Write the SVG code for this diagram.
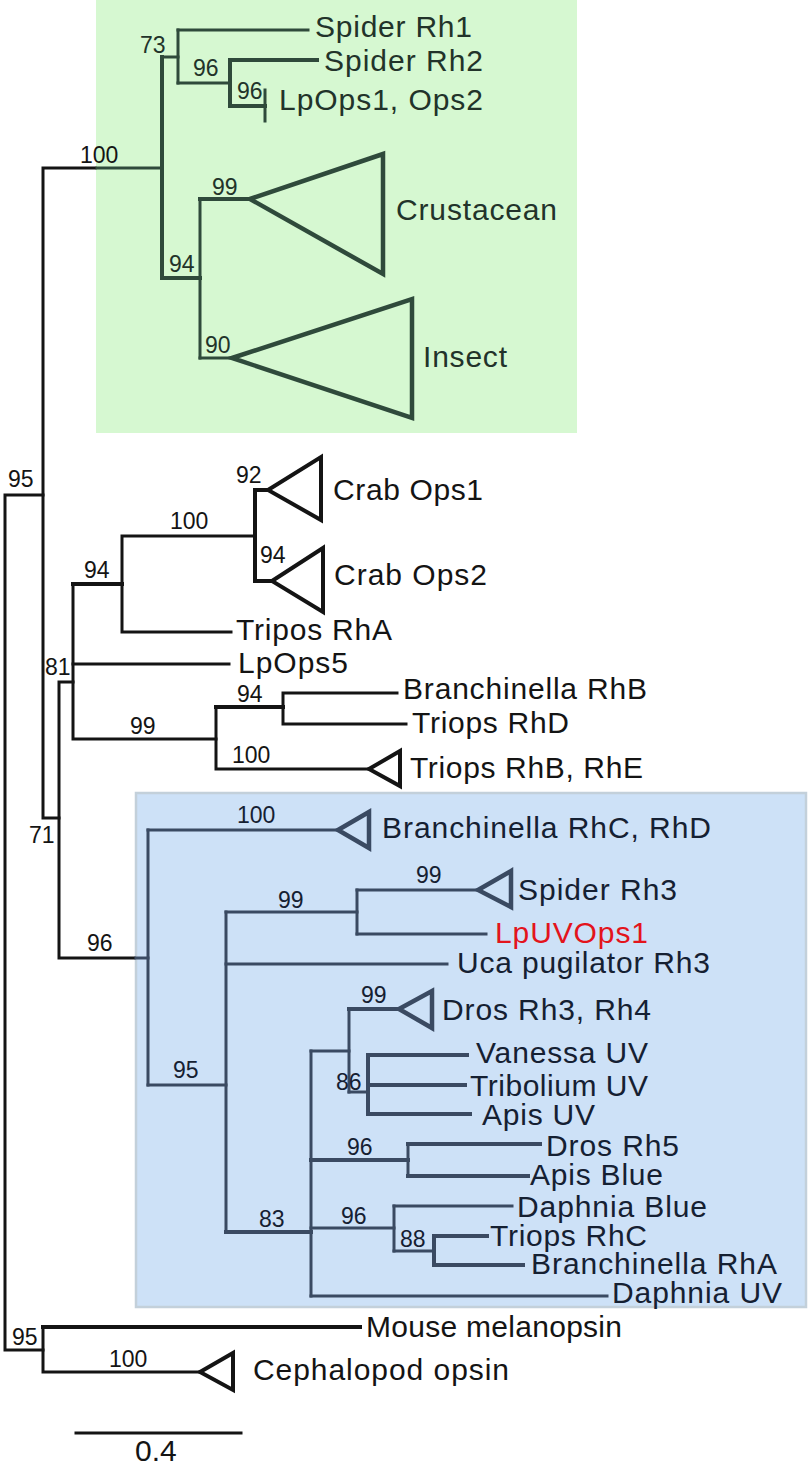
<svg xmlns="http://www.w3.org/2000/svg" width="812" height="1476" viewBox="0 0 812 1476">
<style>
text{font-family:"Liberation Sans",Arial,sans-serif}
.lab{font-size:30px}
.bs{font-size:23px}
.k{fill:#141414}
.g{fill:#22332a}
.b{fill:#152032}
.red{fill:#e3141c}
.lk{fill:none;stroke:#141414;stroke-width:3;stroke-linecap:square}
.lg{fill:none;stroke:#2f4a3b;stroke-width:3;stroke-linecap:square}
.lb{fill:none;stroke:#3a4a62;stroke-width:3;stroke-linecap:square}
.tk{fill:none;stroke:#141414;stroke-width:4;stroke-linejoin:miter}
.tg{fill:none;stroke:#2f4a3b;stroke-width:4.5;stroke-linejoin:miter}
.tb{fill:none;stroke:#3a4a62;stroke-width:4.5;stroke-linejoin:miter}
.thick{stroke-width:4}
</style>
<rect width="812" height="1476" fill="#ffffff"/>
<g id="panels">
<rect id="green-box" x="96" y="0" width="481" height="433" fill="#d6f8d1"/>
<rect id="blue-box" x="136" y="793" width="670" height="514" fill="#cde1f7" stroke="#c3d0da" stroke-width="2.5"/>
</g>
<g id="connectors">
<path class="lk" d="M43 495 H5 V1350 H43"/>
<path class="lk" d="M95 168 H43 V818 H59"/>
<path class="lk" d="M73 682 H59 V958 H134"/>
<path class="lk" d="M122 584 H73 V739 H216"/>
<path class="lk thick" d="M122 584 H73"/>
<path class="lk" d="M73 664 H229"/>
<path class="lk" d="M255 536 H122 V632 H231"/>
<path class="lk thick" d="M268 490 H255 V581 H272"/>
<path class="lk" d="M283 707 H216 V769 H369"/>
<path class="lk thick" d="M283 707 H216"/>
<path class="lk" d="M397 693 H283 V724 H406"/>
<path class="lk" d="M43 1327 V1372 H200"/>
<path class="lk thick" d="M360 1327 H43"/>
<path class="lg" d="M97 168 H162"/>
<path class="lg thick" d="M162 57 V278"/>
<path class="lg" d="M162 57 H178"/>
<path class="lg" d="M178 30 V83"/>
<path class="lg" d="M178 30 H308"/>
<path class="lg" d="M178 83 H230"/>
<path class="lg thick" d="M230 60 V106"/>
<path class="lg thick" d="M230 60 H317"/>
<path class="lg thick" d="M230 106 H265"/>
<path class="lg" d="M265 90 V121"/>
<path class="lg thick" d="M162 278 H200"/>
<path class="lg" d="M200 199 V358"/>
<path class="lg thick" d="M200 199 H250"/>
<path class="lg" d="M200 358 H232"/>
<path class="lb" d="M136 958 H148"/>
<path class="lb" d="M148 830 V1085"/>
<path class="lb" d="M148 830 H338"/>
<path class="lb" d="M148 1085 H226"/>
<path class="lb" d="M226 912 V1232"/>
<path class="lb" d="M226 912 H357"/>
<path class="lb" d="M357 890 V934"/>
<path class="lb" d="M357 890 H478"/>
<path class="lb" d="M357 934 H486"/>
<path class="lb" d="M226 964 H447"/>
<path class="lb thick" d="M226 1232 H311"/>
<path class="lb" d="M311 1051 V1296"/>
<path class="lb" d="M311 1051 H349"/>
<path class="lb" d="M349 1009 V1092"/>
<path class="lb thick" d="M349 1009 H399"/>
<path class="lb" d="M349 1092 H368"/>
<path class="lb thick" d="M368 1055 V1114"/>
<path class="lb thick" d="M368 1055 H467"/>
<path class="lb thick" d="M368 1085 H465"/>
<path class="lb thick" d="M368 1114 H470"/>
<path class="lb thick" d="M311 1160 H408"/>
<path class="lb" d="M408 1144 V1176"/>
<path class="lb thick" d="M408 1144 H540"/>
<path class="lb thick" d="M408 1176 H528"/>
<path class="lb" d="M311 1228 H394"/>
<path class="lb" d="M394 1206 V1251"/>
<path class="lb" d="M394 1206 H512"/>
<path class="lb" d="M394 1251 H434"/>
<path class="lb thick" d="M434 1236 V1265"/>
<path class="lb thick" d="M434 1236 H487"/>
<path class="lb thick" d="M434 1265 H523"/>
<path class="lb" d="M311 1296 H607"/>
</g>
<g id="internal-nodes">
<g id="n-green-100"><text class="bs k" x="80" y="163">100</text></g>
<g id="n-73"><text class="bs g" x="140" y="53">73</text></g>
<g id="n-96a"><text class="bs g" x="193" y="76">96</text></g>
<g id="n-96b"><text class="bs g" x="237" y="99">96</text></g>
<g id="n-99-crust"><text class="bs g" x="212" y="195">99</text></g>
<g id="n-94-green"><text class="bs g" x="169" y="272">94</text></g>
<g id="n-90-insect"><text class="bs g" x="205" y="353">90</text></g>
<g id="n-95-top"><text class="bs k" x="8" y="487">95</text></g>
<g id="n-92"><text class="bs k" x="236" y="483">92</text></g>
<g id="n-100-crab"><text class="bs k" x="170" y="529">100</text></g>
<g id="n-94-crab2"><text class="bs k" x="260" y="563">94</text></g>
<g id="n-94-tripos"><text class="bs k" x="84" y="578">94</text></g>
<g id="n-81"><text class="bs k" x="45" y="675">81</text></g>
<g id="n-94-branch"><text class="bs k" x="237" y="702">94</text></g>
<g id="n-99-triops"><text class="bs k" x="130" y="734">99</text></g>
<g id="n-100-triops"><text class="bs k" x="232" y="763">100</text></g>
<g id="n-71"><text class="bs k" x="29" y="843">71</text></g>
<g id="n-96-blue"><text class="bs k" x="87" y="951">96</text></g>
<g id="n-100-brc"><text class="bs b" x="237" y="823">100</text></g>
<g id="n-99-sp3"><text class="bs b" x="416" y="883">99</text></g>
<g id="n-99-uv"><text class="bs b" x="278" y="908">99</text></g>
<g id="n-99-dros"><text class="bs b" x="361" y="1003">99</text></g>
<g id="n-95-blue"><text class="bs b" x="173" y="1078">95</text></g>
<g id="n-86"><text class="bs b" x="336" y="1090">86</text></g>
<g id="n-96-rh5"><text class="bs b" x="347" y="1155">96</text></g>
<g id="n-96-daph"><text class="bs b" x="341" y="1224">96</text></g>
<g id="n-83"><text class="bs b" x="259" y="1227">83</text></g>
<g id="n-88"><text class="bs b" x="400" y="1247">88</text></g>
<g id="n-95-bottom"><text class="bs k" x="12" y="1345">95</text></g>
<g id="n-100-ceph"><text class="bs k" x="109" y="1367">100</text></g>
</g>
<g id="leaves">
<g id="spider-rh1"><text class="lab g" x="315" y="37" textLength="157">Spider Rh1</text></g>
<g id="spider-rh2"><text class="lab g" x="324" y="71" textLength="159">Spider Rh2</text></g>
<g id="lpops1"><text class="lab g" x="279" y="110" textLength="204">LpOps1, Ops2</text></g>
<g id="crustacean"><path class="tg" d="M250 199 L383 154 V274 Z"/><text class="lab g" x="396" y="220" textLength="161">Crustacean</text></g>
<g id="insect"><path class="tg" d="M232 358 L412 299 V418 Z"/><text class="lab g" x="423" y="367" textLength="84">Insect</text></g>
<g id="crab-ops1"><path class="tk" d="M268 490 L321 457 V520 Z"/><text class="lab k" x="333" y="500" textLength="150">Crab Ops1</text></g>
<g id="crab-ops2"><path class="tk" d="M272 581 L323 548 V612 Z"/><text class="lab k" x="334" y="585" textLength="153">Crab Ops2</text></g>
<g id="tripos-rha"><text class="lab k" x="236" y="640" textLength="156">Tripos RhA</text></g>
<g id="lpops5"><text class="lab k" x="238" y="673" textLength="110">LpOps5</text></g>
<g id="branchinella-rhb"><text class="lab k" x="403" y="699" textLength="244">Branchinella RhB</text></g>
<g id="triops-rhd"><text class="lab k" x="412" y="733" textLength="157">Triops RhD</text></g>
<g id="triops-rhb-rhe"><path class="tk" d="M369 769 L400 751 V786 Z"/><text class="lab k" x="410" y="778" textLength="233">Triops RhB, RhE</text></g>
<g id="branchinella-rhc-rhd"><path class="tb" d="M338 830 L369 812 V848 Z"/><text class="lab b" x="382" y="838" textLength="329">Branchinella RhC, RhD</text></g>
<g id="spider-rh3"><path class="tb" d="M478 890 L511 871 V907 Z"/><text class="lab b" x="518" y="900" textLength="159">Spider Rh3</text></g>
<g id="lpuvops1"><text class="lab red" x="495" y="943" textLength="153">LpUVOps1</text></g>
<g id="uca"><text class="lab b" x="457" y="973" textLength="253">Uca pugilator Rh3</text></g>
<g id="dros-rh3-rh4"><path class="tb" d="M399 1009 L432 991 V1028 Z"/><text class="lab b" x="442" y="1020" textLength="209">Dros Rh3, Rh4</text></g>
<g id="vanessa-uv"><text class="lab b" x="476" y="1063" textLength="172">Vanessa UV</text></g>
<g id="tribolium-uv"><text class="lab b" x="470" y="1096" textLength="178">Tribolium UV</text></g>
<g id="apis-uv"><text class="lab b" x="482" y="1125" textLength="113">Apis UV</text></g>
<g id="dros-rh5"><text class="lab b" x="546" y="1156" textLength="133">Dros Rh5</text></g>
<g id="apis-blue"><text class="lab b" x="530" y="1185" textLength="133">Apis Blue</text></g>
<g id="daphnia-blue"><text class="lab b" x="517" y="1217" textLength="190">Daphnia Blue</text></g>
<g id="triops-rhc"><text class="lab b" x="490" y="1246" textLength="157">Triops RhC</text></g>
<g id="branchinella-rha"><text class="lab b" x="531" y="1274" textLength="246">Branchinella RhA</text></g>
<g id="daphnia-uv"><text class="lab b" x="612" y="1303" textLength="170">Daphnia UV</text></g>
<g id="mouse-melanopsin"><text class="lab k" x="366" y="1337" textLength="256">Mouse melanopsin</text></g>
<g id="cephalopod-opsin"><path class="tk" d="M200 1372 L233 1353 V1390 Z"/><text class="lab k" x="253" y="1380" textLength="256">Cephalopod opsin</text></g>
</g>
<g id="scale-bar">
<path class="lk" d="M76 1433 H241"/>
<text class="k" x="135" y="1461" font-size="30">0.4</text>
</g>
</svg>
